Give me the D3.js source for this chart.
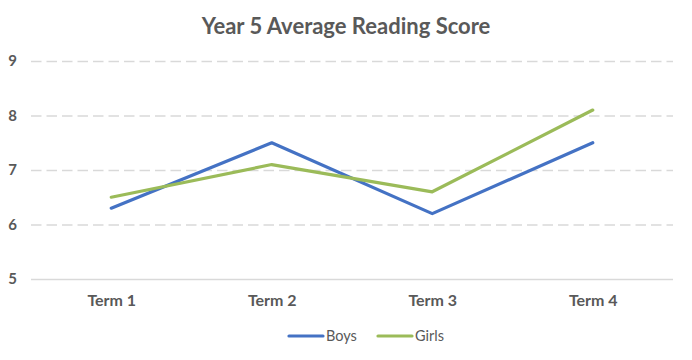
<!DOCTYPE html>
<html><head><meta charset="utf-8">
<script src="https://cdn.jsdelivr.net/npm/d3@7"></script>
<style>body{margin:0;background:#fff;}svg{display:block;font-family:Lato,"Open Sans",sans-serif;}</style>
</head><body>
<svg id="c" width="692" height="360"></svg>
<script>
const categories = ["Term 1","Term 2","Term 3","Term 4"];
const boys = [6.3, 7.5, 6.2, 7.5];
const girls = [6.5, 7.1, 6.6, 8.1];
const yTicks = [5,6,7,8,9];
const seriesNames = ["Boys","Girls"];
const colors = ["#4472C4","#9BBB59"];

const svg = d3.select("#c");
const x = d3.scalePoint().domain(categories).range([31,673]).padding(0.5);
const y = d3.scaleLinear().domain([5,9]).range([279,61]);

svg.append("text").attr("x",346).attr("y",34).attr("text-anchor","middle")
  .attr("font-size",22).attr("font-weight","bold").attr("fill","#595959").text("Year 5 Average Reading Score");

const yAxis = d3.axisLeft(y).tickValues(yTicks).tickFormat(d3.format("d")).tickSize(-(673-31)).tickPadding(14);
const ga = svg.append("g").attr("transform","translate(31,0)").call(yAxis);
ga.select(".domain").remove();
ga.selectAll(".tick line").attr("stroke","#D9D9D9").attr("stroke-width",1.5)
  .attr("stroke-dasharray",d=>d===5?null:"10.5,5");
ga.selectAll(".tick text").attr("font-size",15).attr("font-weight","bold").attr("fill","#595959")
  .attr("font-family","Lato,sans-serif");

const xAxis = d3.axisBottom(x).tickSize(0).tickPadding(16);
const gx = svg.append("g").attr("transform","translate(0,279)").call(xAxis);
gx.select(".domain").remove();
gx.selectAll(".tick text").attr("font-size",16).attr("font-weight","bold").attr("fill","#595959")
  .attr("font-family","Lato,sans-serif");

const line = d3.line().x((d,i)=>x(categories[i])).y(d=>y(d));
[boys,girls].forEach((s,k)=>{
  svg.append("path").datum(s).attr("d",line).attr("fill","none")
    .attr("stroke",colors[k]).attr("stroke-width",3.2).attr("stroke-linejoin","round").attr("stroke-linecap","round");
});

const legX = [289,378];
seriesNames.forEach((n,k)=>{
  svg.append("line").attr("x1",legX[k]).attr("x2",legX[k]+34).attr("y1",336).attr("y2",336)
    .attr("stroke",colors[k]).attr("stroke-width",3.2).attr("stroke-linecap","round");
  svg.append("text").attr("x",legX[k]+37).attr("y",341).attr("font-size",14.5).attr("fill","#595959").text(n);
});
</script>
</body></html>
